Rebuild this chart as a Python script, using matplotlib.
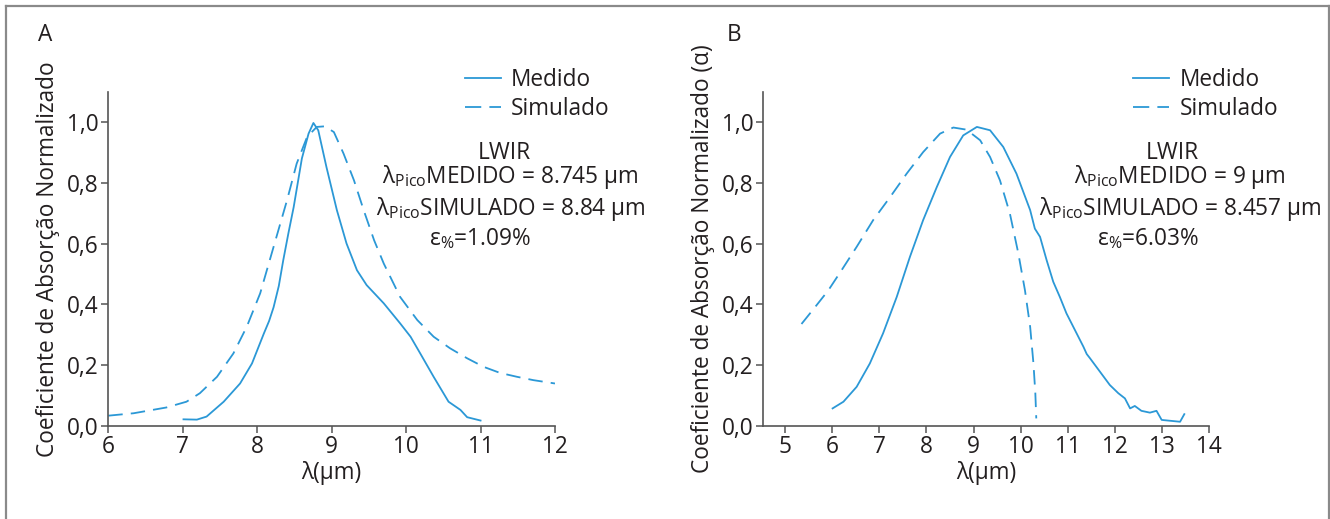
import matplotlib
matplotlib.use("Agg")
import matplotlib.pyplot as plt
from matplotlib.lines import Line2D

# ---------------- data ----------------
# Panel A
a_med_x = [7.01, 7.19, 7.32, 7.55, 7.77, 7.93, 8.09, 8.16, 8.22, 8.29, 8.35, 8.42, 8.49, 8.60,
           8.69, 8.755, 8.82, 8.93, 9.07, 9.20, 9.34, 9.47, 9.70, 9.92, 10.06, 10.19, 10.37,
           10.57, 10.73, 10.82, 11.0]
a_med_y = [0.021, 0.020, 0.030, 0.079, 0.139, 0.205, 0.304, 0.345, 0.39, 0.46, 0.545, 0.635,
           0.72, 0.88, 0.962, 0.997, 0.973, 0.852, 0.71, 0.60, 0.512, 0.463, 0.403, 0.337,
           0.293, 0.238, 0.161, 0.079, 0.052, 0.028, 0.017]
a_sim_x = [6.0, 6.34, 6.78, 7.05, 7.23, 7.46, 7.68, 7.86, 8.04, 8.22, 8.40, 8.53, 8.67, 8.80,
           8.91, 9.03, 9.16, 9.30, 9.43, 9.57, 9.70, 9.92, 10.15, 10.37, 10.59, 10.82, 11.04,
           11.26, 11.49, 11.71, 12.0]
a_sim_y = [0.033, 0.041, 0.060, 0.079, 0.107, 0.161, 0.238, 0.326, 0.436, 0.589, 0.742, 0.863,
           0.951, 0.984, 0.986, 0.967, 0.896, 0.808, 0.71, 0.611, 0.534, 0.424, 0.348, 0.293,
           0.255, 0.222, 0.194, 0.174, 0.161, 0.150, 0.139]

# Panel B
b_med_x = [6.01, 6.24, 6.52, 6.80, 7.08, 7.37, 7.65, 7.93, 8.22, 8.50, 8.78, 9.07, 9.35, 9.63,
           9.91, 10.20, 10.30, 10.41, 10.55, 10.69, 10.83, 10.97, 11.15, 11.33, 11.40, 11.47,
           11.68, 11.89, 12.07, 12.21, 12.32, 12.42, 12.56, 12.74, 12.88, 12.99, 13.38, 13.47]
b_med_y = [0.057, 0.079, 0.128, 0.205, 0.304, 0.424, 0.556, 0.677, 0.786, 0.885, 0.956, 0.984,
           0.973, 0.918, 0.830, 0.71, 0.649, 0.622, 0.545, 0.474, 0.424, 0.370, 0.315, 0.260,
           0.236, 0.222, 0.178, 0.134, 0.107, 0.090, 0.057, 0.065, 0.049, 0.043, 0.049, 0.019,
           0.013, 0.038]
b_sim_x = [5.35, 5.64, 5.92, 6.20, 6.52, 6.87, 7.23, 7.58, 7.93, 8.29, 8.57, 8.85, 9.14, 9.35,
           9.56, 9.77, 9.95, 10.09, 10.20, 10.27, 10.31, 10.33]
b_sim_y = [0.335, 0.391, 0.446, 0.512, 0.589, 0.677, 0.753, 0.830, 0.901, 0.962, 0.982, 0.975,
           0.940, 0.885, 0.808, 0.699, 0.567, 0.446, 0.326, 0.205, 0.107, 0.024]

y_ticks = [0.0, 0.2, 0.4, 0.6, 0.8, 1.0]
y_tick_labels = ["0,0", "0,2", "0,4", "0,6", "0,8", "1,0"]
a_x_ticks = [6, 7, 8, 9, 10, 11, 12]
b_x_ticks = [5, 6, 7, 8, 9, 10, 11, 12, 13, 14]

legend_labels = ["Medido", "Simulado"]
a_text = ["LWIR", "MEDIDO = 8.745 μm", "SIMULADO = 8.84 μm", "=1.09%"]
b_text = ["LWIR", "MEDIDO = 9 μm", "SIMULADO = 8.457 μm", "=6.03%"]
a_ylabel = "Coeficiente de Absorção Normalizado"
b_ylabel = "Coeficiente de Absorção Normalizado (α)"
xlabel = "λ(μm)"

# ---------------- style ----------------
plt.rcParams["font.family"] = ["Open Sans", "DejaVu Sans"]
plt.rcParams["mathtext.fontset"] = "custom"
plt.rcParams["mathtext.rm"] = "Open Sans"
TXT = "#231f20"
BLUE = "#2b98d6"
SPINE = "#555555"
FS = 16.3

fig = plt.figure(figsize=(13.3, 5.19), dpi=100)

# figure frame (left, top, right)
for xs, ys in [([6, 6], [519, 5.5]), ([6, 1329], [5.5, 5.5]), ([1329, 1329], [519, 5.5])]:
    fig.add_artist(Line2D([x / 1330 for x in xs], [1 - y / 519 for y in ys], color="#8a8a8a",
                          lw=1.6, transform=fig.transFigure))

bottom = 1 - 425.7 / 519
top = 1 - 91.7 / 519
axA = fig.add_axes([108.3 / 1330, bottom, (555 - 108.3) / 1330, top - bottom])
axB = fig.add_axes([763.3 / 1330, bottom, (1209.3 - 763.3) / 1330, top - bottom])


def style(ax, xlim, xticks, ylabel):
    ax.set_xlim(*xlim)
    ax.set_ylim(0, 1.1)
    for s in ["top", "right"]:
        ax.spines[s].set_visible(False)
    for s in ["left", "bottom"]:
        ax.spines[s].set_color(SPINE)
        ax.spines[s].set_linewidth(1.2)
    ax.set_xticks(xticks)
    ax.set_xticklabels([str(t) for t in xticks])
    ax.set_yticks(y_ticks)
    ax.set_yticklabels(y_tick_labels)
    ax.tick_params(axis="both", direction="out", length=5, width=1.1, color=SPINE,
                   labelsize=FS, labelcolor=TXT, pad=2)
    ax.set_xlabel(xlabel, fontsize=FS, color=TXT, labelpad=1)
    ax.set_ylabel(ylabel, fontsize=FS, color=TXT, labelpad=5)
    ax.patch.set_alpha(0)


def annot(ax, lines, cxs):
    tr = ax.transAxes
    ax.text(cxs[0], 0.815, lines[0], transform=tr, ha="center", va="center", fontsize=FS,
            color=TXT)
    ax.text(cxs[1], 0.745, r"λ$\mathregular{_{Pico}}$" + lines[1], transform=tr, ha="center",
            va="center", fontsize=FS, color=TXT)
    ax.text(cxs[2], 0.65, r"λ$\mathregular{_{Pico}}$" + lines[2], transform=tr, ha="center",
            va="center", fontsize=FS, color=TXT)
    ax.text(cxs[3], 0.56, r"ε$\mathregular{_{\%}}$" + lines[3], transform=tr, ha="center",
            va="center", fontsize=FS, color=TXT)


def legend(ax, x0):
    h = ax.legend(loc="upper left", bbox_to_anchor=(x0, 1.07), frameon=False, fontsize=FS,
                  handlelength=1.6, handletextpad=0.45, labelspacing=0.2, labelcolor=TXT,
                  borderaxespad=0, borderpad=0)
    h.get_lines()[1].set_dashes((9, 4.5))


DASH = (0, (8, 4.5))

# Panel A
axA.plot(a_med_x, a_med_y, color=BLUE, lw=1.3, label=legend_labels[0])
axA.plot(a_sim_x, a_sim_y, color=BLUE, lw=1.3, ls=DASH, label=legend_labels[1])
style(axA, (6, 12), a_x_ticks, a_ylabel)
legend(axA, 0.798)
annot(axA, a_text, [0.886, 0.901, 0.901, 0.832])

# Panel B
axB.plot(b_med_x, b_med_y, color=BLUE, lw=1.3, label=legend_labels[0])
axB.plot(b_sim_x, b_sim_y, color=BLUE, lw=1.3, ls=DASH, label=legend_labels[1])
style(axB, (4.54, 14), b_x_ticks, b_ylabel)
legend(axB, 0.829)
annot(axB, b_text, [0.9175, 0.934, 0.934, 0.863])

fig.text(38 / 1330, 1 - 35 / 519, "A", fontsize=FS, color=TXT, ha="left", va="center")
fig.text(727 / 1330, 1 - 35 / 519, "B", fontsize=FS, color=TXT, ha="left", va="center")

fig.savefig("out.png", dpi=100)
